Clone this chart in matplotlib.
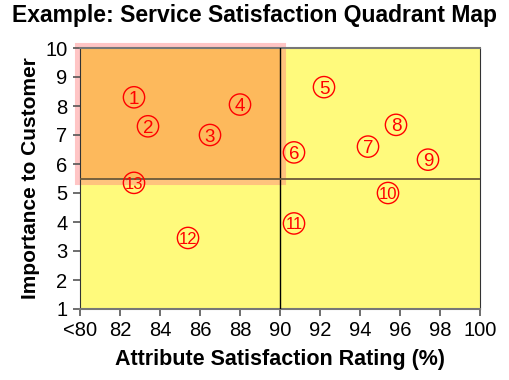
import numpy as np
import matplotlib
matplotlib.use('Agg')
import matplotlib.pyplot as plt
from matplotlib.patches import Rectangle

# attribute satisfaction rating (%) and importance for each numbered item
labels = ['1', '2', '3', '4', '5', '6', '7', '8', '9', '10', '11', '12', '13']
satisfaction = [82.7, 83.4, 86.5, 88.0, 92.2, 90.7, 94.4, 95.8, 97.4, 95.4, 90.7, 85.4, 82.7]
importance = [8.3, 7.3, 7.0, 8.05, 8.65, 6.4, 6.6, 7.35, 6.15, 5.0, 3.95, 3.45, 5.35]

x_split = 90
y_split = 5.5
xticks = [80, 82, 84, 86, 88, 90, 92, 94, 96, 98, 100]
xticklabels = ['<80', '82', '84', '86', '88', '90', '92', '94', '96', '98', '100']
yticks = list(range(1, 11))

plt.rcParams['font.family'] = ['Liberation Sans', 'DejaVu Sans']

fig = plt.figure(figsize=(5.1, 3.8), dpi=100)
ax = fig.add_axes([80 / 510, 1 - 309 / 380, 400 / 510, 261 / 380])
ax.set_facecolor('#fffa7c')
ax.set_xlim(80, 100)
ax.set_ylim(1, 10)

# highlighted quadrant: translucent pink halo + orange fill
ax.add_patch(Rectangle((80, y_split), x_split - 80, 10 - y_split, facecolor='none',
                       edgecolor='#ff8080', alpha=0.45, lw=8, clip_on=False, zorder=1))
ax.add_patch(Rectangle((80, y_split), x_split - 80, 10 - y_split, facecolor='#fdb95c',
                       edgecolor='none', zorder=2))

ax.axvline(x_split, color='black', lw=1, zorder=3)
ax.axhline(y_split, color='#6b5a3a', lw=1.3, zorder=3)

ax.scatter(satisfaction, importance, s=235, facecolors='none', edgecolors='red',
           linewidths=1, zorder=4)
for lab, x, y in zip(labels, satisfaction, importance):
    ax.text(x, y, lab, color='red', fontsize=13.5 if len(lab) == 1 else 12,
            ha='center', va='center_baseline', zorder=5)

ax.set_xticks(xticks)
ax.set_xticklabels(xticklabels)
ax.set_yticks(yticks)
ax.tick_params(labelsize=14.5, length=5, color='#555555', width=1.2, pad=4)
for side in ['top', 'bottom']:
    ax.spines[side].set_color('#777777')
    ax.spines[side].set_linewidth(1.5)
ax.spines['left'].set_color('#333333')
ax.spines['right'].set_color('#333333')

ax.set_xlabel('Attribute Satisfaction Rating (%)', fontsize=15.5, fontweight='bold', labelpad=6)
ax.set_ylabel('Importance to Customer', fontsize=15, fontweight='bold', labelpad=4)
fig.suptitle('Example: Service Satisfaction Quadrant Map', fontsize=16.5, fontweight='bold',
             x=0.5, y=0.99)

plt.savefig('out.png', dpi=100)
